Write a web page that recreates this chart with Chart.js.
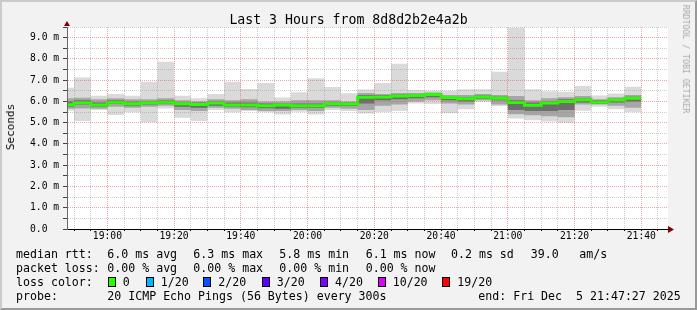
<!DOCTYPE html>
<html>
<head>
<meta charset="utf-8">
<script src="https://cdn.jsdelivr.net/npm/chart.js@4/dist/chart.umd.min.js"></script>
<style>
  html, body { margin: 0; padding: 0; background: #f2f2f2; }
  #wrap { position: relative; width: 697px; height: 310px; overflow: hidden; background: #f2f2f2; }
  #chart { position: absolute; left: 0; top: 0; }
  #frame { position: absolute; left: 0; top: 0; width: 697px; height: 310px; box-sizing: border-box;
    border-top: 2px solid #cbcbcb; border-left: 2px solid #cbcbcb;
    border-right: 2px solid #999; border-bottom: 2px solid #999; pointer-events: none; }
  .t { position: absolute; font-family: "DejaVu Sans Mono", monospace; font-size: 11.6px;
    line-height: 14px; white-space: pre; color: #000; }
  .box { position: absolute; width: 8px; height: 10px; box-sizing: border-box; border: 1px solid #000; }
  #title { left: 0; width: 697px; top: 12px; text-align: center; font-size: 13.2px; line-height: 15px; }
  #ylab { left: 11px; top: 127px; font-size: 11px; transform: translate(-50%, -50%) rotate(-90deg); }
  #tag { left: 686px; top: 59px; font-size: 8.2px; color: #a8a8a8; transform: translate(-50%, -50%) rotate(90deg); }
</style>
</head>
<body>
<div id="wrap">
  <canvas id="chart" width="697" height="310"></canvas>
  <div class="t" id="title">Last 3 Hours from 8d8d2b2e4a2b</div>
  <div class="t" id="ylab">Seconds</div>
  <div class="t" id="tag">RRDTOOL / TOBI OETIKER</div>

  <div class="t" style="left:16px;top:247px">median rtt:</div>
  <div class="t" style="left:107.3px;top:247px">6.0 ms avg</div>
  <div class="t" style="left:193.3px;top:247px">6.3 ms max</div>
  <div class="t" style="left:279.3px;top:247px">5.8 ms min</div>
  <div class="t" style="left:365.7px;top:247px">6.1 ms now</div>
  <div class="t" style="left:451px;top:247px">0.2 ms sd</div>
  <div class="t" style="left:530.7px;top:247px">39.0</div>
  <div class="t" style="left:579.3px;top:247px">am/s</div>

  <div class="t" style="left:16px;top:261px">packet loss:</div>
  <div class="t" style="left:107.3px;top:261px">0.00 % avg</div>
  <div class="t" style="left:193.3px;top:261px">0.00 % max</div>
  <div class="t" style="left:279.3px;top:261px">0.00 % min</div>
  <div class="t" style="left:365.7px;top:261px">0.00 % now</div>

  <div class="t" style="left:16px;top:275px">loss color:</div>
  <div class="box" style="left:108px;top:277px;background:#26ff00"></div>
  <div class="t" style="left:122.7px;top:275px">0</div>
  <div class="box" style="left:145.7px;top:277px;background:#00b8ff"></div>
  <div class="t" style="left:160.7px;top:275px">1/20</div>
  <div class="box" style="left:203.3px;top:277px;background:#0059ff"></div>
  <div class="t" style="left:218.3px;top:275px">2/20</div>
  <div class="box" style="left:261.7px;top:277px;background:#5e00ff"></div>
  <div class="t" style="left:276.7px;top:275px">3/20</div>
  <div class="box" style="left:320px;top:277px;background:#7e00ff"></div>
  <div class="t" style="left:335px;top:275px">4/20</div>
  <div class="box" style="left:377.7px;top:277px;background:#dd00ff"></div>
  <div class="t" style="left:392.7px;top:275px">10/20</div>
  <div class="box" style="left:442.3px;top:277px;background:#ff0000"></div>
  <div class="t" style="left:457.3px;top:275px">19/20</div>

  <div class="t" style="left:16px;top:289px">probe:</div>
  <div class="t" style="left:107.3px;top:289px">20 ICMP Echo Pings (56 Bytes) every 300s</div>
  <div class="t" style="left:478.3px;top:289px">end: Fri Dec  5 21:47:27 2025</div>
  <div id="frame"></div>
</div>
<script>
// 5-minute steps, start time of each step (the first one is cut by the left edge)
const STEP_START = ['18:45', '18:50', '18:55', '19:00', '19:05', '19:10', '19:15', '19:20', '19:25',
  '19:30', '19:35', '19:40', '19:45', '19:50', '19:55', '20:00', '20:05', '20:10', '20:15',
  '20:20', '20:25', '20:30', '20:35', '20:40', '20:45', '20:50', '20:55', '21:00', '21:05',
  '21:10', '21:15', '21:20', '21:25', '21:30', '21:35'];
const STEP_END = '21:40';

// rtt in ms
const MEDIAN = [5.84, 5.94, 5.83, 5.96, 5.89, 5.94, 5.97, 5.89, 5.86, 5.92, 5.83, 5.83, 5.80, 5.83,
  5.80, 5.80, 5.89, 5.88, 6.20, 6.21, 6.25, 6.28, 6.32, 6.19, 6.13, 6.21, 6.15, 5.95, 5.82,
  5.92, 6.00, 6.08, 5.97, 6.07, 6.15];
const PING_MAX = [6.64, 7.12, 6.27, 6.35, 6.27, 6.93, 7.87, 6.27, 6.15, 6.35, 6.93, 6.58, 6.87, 6.19,
  6.43, 7.09, 6.68, 6.38, 6.56, 6.87, 7.77, 6.54, 6.50, 6.50, 6.57, 6.57, 7.40, 9.47, 6.57,
  6.48, 6.46, 6.72, 6.28, 6.37, 6.69];
const PING_MIN = [5.56, 5.08, 5.60, 5.36, 5.49, 5.02, 5.67, 5.23, 5.08, 5.60, 5.49, 5.55, 5.49, 5.39,
  5.52, 5.39, 5.60, 5.55, 5.43, 5.50, 5.55, 5.90, 5.88, 5.44, 5.63, 5.99, 5.78, 5.20, 5.12,
  5.05, 5.00, 5.56, 5.75, 5.63, 5.50];
const SMOKE_HI = [6.15, 6.17, 6.10, 6.15, 6.10, 6.10, 6.15, 6.05, 6.00, 6.10, 6.05, 6.10, 6.00, 6.00,
  6.05, 6.05, 6.05, 6.00, 6.40, 6.35, 6.40, 6.40, 6.42, 6.30, 6.30, 6.35, 6.30, 6.25, 6.05,
  6.15, 6.20, 6.25, 6.10, 6.20, 6.30];
const SMOKE_LO = [5.65, 5.67, 5.65, 5.75, 5.70, 5.75, 5.80, 5.60, 5.55, 5.70, 5.65, 5.60, 5.55, 5.55,
  5.60, 5.55, 5.70, 5.65, 5.60, 5.80, 5.85, 6.00, 6.05, 5.90, 5.85, 6.05, 5.85, 5.40, 5.35,
  5.30, 5.25, 5.85, 5.85, 5.80, 5.70];
const CORE_HI = [6.00, 6.05, 5.95, 6.05, 5.98, 6.00, 6.05, 5.95, 5.95, 6.00, 5.95, 5.95, 5.90, 5.90,
  5.90, 5.90, 5.95, 5.95, 6.30, 6.30, 6.32, 6.35, 6.38, 6.25, 6.20, 6.28, 6.22, 6.05, 5.95,
  6.00, 6.10, 6.15, 6.05, 6.12, 6.22];
const CORE_LO = [5.75, 5.85, 5.75, 5.88, 5.80, 5.85, 5.90, 5.75, 5.70, 5.80, 5.75, 5.72, 5.68, 5.65,
  5.70, 5.70, 5.80, 5.78, 5.90, 6.05, 6.10, 6.15, 6.20, 6.05, 6.00, 6.12, 6.05, 5.60, 5.55,
  5.55, 5.60, 5.95, 5.90, 5.95, 6.00];

const X_TICKS = ['18:50', '18:55', '19:00', '19:05', '19:10', '19:15', '19:20', '19:25', '19:30',
  '19:35', '19:40', '19:45', '19:50', '19:55', '20:00', '20:05', '20:10', '20:15', '20:20',
  '20:25', '20:30', '20:35', '20:40', '20:45', '20:50', '20:55', '21:00', '21:05', '21:10',
  '21:15', '21:20', '21:25', '21:30', '21:35', '21:40', '21:45'];
const Y_TICKS = [0, 0.5, 1, 1.5, 2, 2.5, 3, 3.5, 4, 4.5, 5, 5.5, 6, 6.5, 7, 7.5, 8, 8.5, 9, 9.5];

const toMin = s => { const [h, m] = s.split(':').map(Number); return h * 60 + m; };
const fmt = v => String(Math.floor(v / 60)).padStart(2, '0') + ':' + String(v % 60).padStart(2, '0');

const GRID = 'rgba(143,143,143,0.45)';
const MGRID = 'rgba(224,80,80,0.5)';
const MONO = '"DejaVu Sans Mono", monospace';

function steps(values) {
  const pts = STEP_START.map((t, i) => ({ x: toMin(t), y: values[i] }));
  pts.push({ x: toMin(STEP_END), y: values[values.length - 1] });
  return pts;
}

function band(hi, lo, color) {
  const common = { stepped: 'before', pointRadius: 0, borderWidth: 0, borderColor: 'transparent' };
  return [
    { ...common, data: steps(hi), fill: '+1', backgroundColor: color },
    { ...common, data: steps(lo), fill: false }
  ];
}

const rrdLook = {
  id: 'rrdLook',
  beforeDraw(chart) {
    const { ctx, chartArea: a } = chart;
    ctx.save();
    ctx.fillStyle = '#fff';
    ctx.fillRect(a.left, a.top, a.right - a.left + 1, a.bottom - a.top);
    ctx.restore();
  },
  afterDraw(chart) {
    const { ctx, chartArea: a } = chart;
    ctx.save();
    ctx.fillStyle = '#7f0000';
    // arrow on top of the y axis
    ctx.beginPath();
    ctx.moveTo(a.left - 3, a.top - 1);
    ctx.lineTo(a.left + 3, a.top - 1);
    ctx.lineTo(a.left, a.top - 6);
    ctx.closePath();
    ctx.fill();
    // x axis runs a bit past the canvas, then the arrow
    ctx.strokeStyle = '#000';
    ctx.beginPath();
    ctx.moveTo(a.right, a.bottom + 0.5);
    ctx.lineTo(a.right + 2, a.bottom + 0.5);
    ctx.stroke();
    ctx.beginPath();
    ctx.moveTo(a.right + 1, a.bottom - 3);
    ctx.lineTo(a.right + 1, a.bottom + 4);
    ctx.lineTo(a.right + 7, a.bottom + 0.5);
    ctx.closePath();
    ctx.fill();
    ctx.restore();
  }
};

// datasets are painted last-to-first, so the median comes first and the widest smoke last
new Chart(document.getElementById('chart'), {
  type: 'line',
  data: {
    datasets: [
      {
        data: steps(MEDIAN), stepped: 'before', pointRadius: 0,
        borderColor: '#26ff00', borderWidth: 3, fill: false
      },
      ...band(CORE_HI, CORE_LO, '#6e6e6e'),
      ...band(SMOKE_HI, SMOKE_LO, '#a6a6a6'),
      ...band(PING_MAX, PING_MIN, '#dadada')
    ]
  },
  options: {
    responsive: false,
    animation: false,
    devicePixelRatio: 1,
    layout: { padding: { left: 30, top: 27, right: 30, bottom: 61 } },
    plugins: { legend: { display: false }, tooltip: { enabled: false } },
    scales: {
      x: {
        type: 'linear',
        min: 1127.9,
        max: 1307.7,
        afterBuildTicks: s => { s.ticks = X_TICKS.map(t => ({ value: toMin(t) })); },
        afterFit: s => { s.height = 20; },
        ticks: {
          autoSkip: false, maxRotation: 0, padding: 0, color: '#000',
          font: { family: MONO, size: 9.7 },
          callback: v => (v % 20 === 0 ? fmt(v) : '')
        },
        grid: {
          z: 1,
          color: c => (c.tick && c.tick.value % 20 === 0 ? MGRID : GRID),
          tickColor: '#000', tickLength: 2, lineWidth: 1
        },
        border: { display: true, color: '#000', width: 1, dash: [1, 1], z: 2 }
      },
      y: {
        min: 0,
        max: 9.5,
        afterBuildTicks: s => { s.ticks = Y_TICKS.map(v => ({ value: v })); },
        afterFit: s => { s.width = 37; },
        ticks: {
          autoSkip: false, crossAlign: 'far', color: '#000',
          font: { family: MONO, size: 9.7 },
          callback: v => (v % 1 !== 0 ? '' : v === 0 ? '0.0' : v.toFixed(1) + ' m')
        },
        grid: {
          z: 1,
          color: c => (c.tick && c.tick.value % 1 === 0 ? MGRID : GRID),
          tickColor: '#444', tickLength: 4, lineWidth: 1
        },
        border: { display: true, color: '#6a6a6a', width: 1, dash: [1, 1], z: 2 }
      }
    }
  },
  plugins: [rrdLook]
});
</script>
</body>
</html>
